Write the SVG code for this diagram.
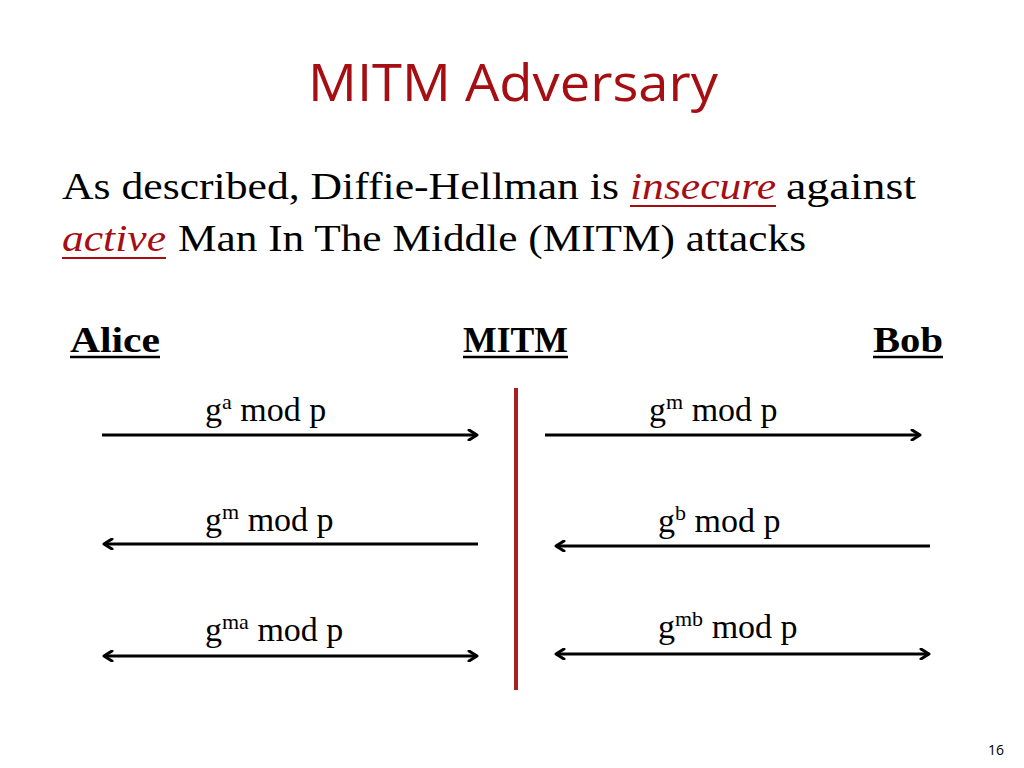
<svg xmlns="http://www.w3.org/2000/svg" width="1024" height="768" viewBox="0 0 1024 768">
<style>
.title{font-family:"Open Sans","Liberation Sans",sans-serif;font-size:52px;fill:#A50E12;}
.body{font-family:"Liberation Serif","DejaVu Serif",serif;font-size:37px;fill:#000;}
.red{fill:#A50E12;font-style:italic;}
.party{font-family:"Liberation Serif","DejaVu Serif",serif;font-size:35px;font-weight:bold;fill:#000;}
.lbl{font-family:"Liberation Serif","DejaVu Serif",serif;font-size:34px;fill:#000;}
.sup{font-size:22px;}
.conn{stroke:#000;stroke-width:3;fill:none;}
.head{stroke:#000;stroke-width:3;fill:none;stroke-linecap:round;stroke-linejoin:round;}
.pg{font-family:"Open Sans","Liberation Sans",sans-serif;font-size:14px;fill:#000;}
</style>
<defs>
<marker id="ah" viewBox="0 0 12 12" refX="10" refY="6" markerWidth="12" markerHeight="12" markerUnits="userSpaceOnUse" orient="auto-start-reverse">
<polyline points="2,1 10,6 2,11" class="head" stroke-width="2.5"/>
</marker>
</defs>
<text class="title" x="308" y="101" textLength="410" lengthAdjust="spacingAndGlyphs">MITM Adversary</text>
<g id="body">
<text class="body" x="62" y="199" textLength="557" lengthAdjust="spacingAndGlyphs">As described, Diffie-Hellman is</text>
<text class="body red" x="630" y="199" textLength="146" lengthAdjust="spacingAndGlyphs">insecure</text>
<text class="body" x="786" y="199" textLength="130" lengthAdjust="spacingAndGlyphs">against</text>
<line x1="630" y1="206" x2="776" y2="206" stroke="#A50E12" stroke-width="2"/>
<text class="body red" x="62" y="251" textLength="104" lengthAdjust="spacingAndGlyphs">active</text>
<line x1="62" y1="258" x2="166" y2="258" stroke="#A50E12" stroke-width="2"/>
<text class="body" x="178" y="251" textLength="628" lengthAdjust="spacingAndGlyphs">Man In The Middle (MITM) attacks</text>
</g>
<g id="alice">
<text class="party" x="70" y="352" textLength="90" lengthAdjust="spacingAndGlyphs">Alice</text>
<line x1="70" y1="357" x2="160" y2="357" stroke="#000" stroke-width="2.5"/>
</g>
<g id="mitm">
<text class="party" x="463" y="352" textLength="105" lengthAdjust="spacingAndGlyphs">MITM</text>
<line x1="463" y1="357" x2="568" y2="357" stroke="#000" stroke-width="2.5"/>
<line x1="516" y1="388" x2="516" y2="690" stroke="#A52020" stroke-width="4"/>
</g>
<g id="bob">
<text class="party" x="873" y="352" textLength="70" lengthAdjust="spacingAndGlyphs">Bob</text>
<line x1="873" y1="357" x2="943" y2="357" stroke="#000" stroke-width="2.5"/>
</g>
<g id="connectors">
<line class="conn" x1="102" y1="435" x2="477" y2="435" marker-end="url(#ah)"/>
<line class="conn" x1="545" y1="435" x2="920" y2="435" marker-end="url(#ah)"/>
<line class="conn" x1="478" y1="544" x2="104" y2="544" marker-end="url(#ah)"/>
<line class="conn" x1="930" y1="546" x2="556" y2="546" marker-end="url(#ah)"/>
<line class="conn" x1="104" y1="656" x2="477" y2="656" marker-start="url(#ah)" marker-end="url(#ah)"/>
<line class="conn" x1="556" y1="654" x2="929" y2="654" marker-start="url(#ah)" marker-end="url(#ah)"/>
</g>
<g id="labels">
<text class="lbl" x="205" y="421">g<tspan class="sup" dy="-12">a</tspan><tspan dy="12"> mod p</tspan></text>
<text class="lbl" x="649" y="421">g<tspan class="sup" dy="-12">m</tspan><tspan dy="12"> mod p</tspan></text>
<text class="lbl" x="205" y="531">g<tspan class="sup" dy="-12">m</tspan><tspan dy="12"> mod p</tspan></text>
<text class="lbl" x="658" y="532">g<tspan class="sup" dy="-12">b</tspan><tspan dy="12"> mod p</tspan></text>
<text class="lbl" x="205" y="641">g<tspan class="sup" dy="-12">ma</tspan><tspan dy="12"> mod p</tspan></text>
<text class="lbl" x="658" y="638">g<tspan class="sup" dy="-12">mb</tspan><tspan dy="12"> mod p</tspan></text>
</g>
<text class="pg" x="988" y="755">16</text>
</svg>
